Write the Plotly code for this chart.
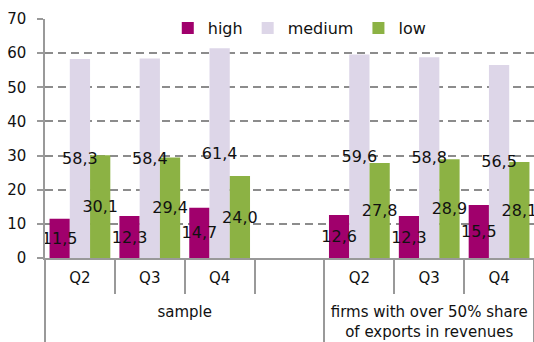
import plotly.graph_objects as go

# Category layout: two groups of quarters, with a blank spacer slot in the first group
groups = ["<br>sample"] * 4 + ["<br>firms with over 50% share<br>of exports in revenues"] * 3
quarters = ["Q2", "Q3", "Q4", " ", "Q2", "Q3", "Q4"]

series_names = ["high", "medium", "low"]
high = [11.5, 12.3, 14.7, None, 12.6, 12.3, 15.5]
medium = [58.3, 58.4, 61.4, None, 59.6, 58.8, 56.5]
low = [30.1, 29.4, 24.0, None, 27.8, 28.9, 28.1]
colors = ["#A0006C", "#DDD6E8", "#8CB244"]

FONT = "DejaVu Sans"
x = [groups, quarters]


def fmt(v):
    return "" if v is None else f"{v:.1f}".replace(".", ",")


fig = go.Figure()
all_series = [high, medium, low]

# Bars first (no text)
for name, vals, col in zip(series_names, all_series, colors):
    fig.add_trace(go.Bar(
        x=x, y=vals, name=name, marker=dict(color=col, line=dict(width=0)),
        offsetgroup=name, hoverinfo="skip",
    ))

# Value labels in a second pass so they sit above every bar
for name, vals in zip(series_names, all_series):
    fig.add_trace(go.Bar(
        x=x, y=vals, name=name, showlegend=False,
        marker=dict(color="rgba(0,0,0,0)", line=dict(width=0)),
        offsetgroup=name,
        text=[fmt(v) for v in vals], textposition="inside",
        insidetextanchor="middle", textangle=0, constraintext="none",
        textfont=dict(family=FONT, size=16, color="#111111"),
        cliponaxis=False, hoverinfo="skip",
    ))

fig.update_layout(
    width=534, height=342,
    margin=dict(l=45, r=0, t=19, b=84),
    paper_bgcolor="white", plot_bgcolor="white",
    barmode="group", bargap=0.13, bargroupgap=0,
    uniformtext=dict(minsize=16, mode="show"),
    font=dict(family=FONT, size=15, color="#111111"),
    showlegend=True,
    legend=dict(
        orientation="h", x=0.52, xanchor="center", y=0.962, yanchor="middle",
        font=dict(family=FONT, size=16, color="#111111"),
        itemwidth=30, bgcolor="rgba(255,255,255,0)", traceorder="normal",
    ),
)

fig.update_yaxes(
    range=[0, 70], dtick=10, showgrid=True, gridcolor="#8C8C8C", gridwidth=1.5,
    griddash="8px,5px", showline=True, linecolor="#999999", linewidth=1.5,
    ticks="outside", ticklen=6, tickcolor="#999999", tickwidth=1.5,
    tickfont=dict(family=FONT, size=15, color="#111111"), ticklabelstandoff=8,
    zeroline=False,
)

fig.update_xaxes(
    type="multicategory", showline=True, linecolor="#999999", linewidth=1.5,
    ticks="outside", ticklen=34, tickcolor="#999999", tickwidth=1.5,
    showdividers=True, dividercolor="#999999", dividerwidth=1.5,
    tickfont=dict(family=FONT, size=15, color="#111111"), ticklabelstandoff=5,
    showgrid=False, zeroline=False,
)

fig.write_html("out.html")
